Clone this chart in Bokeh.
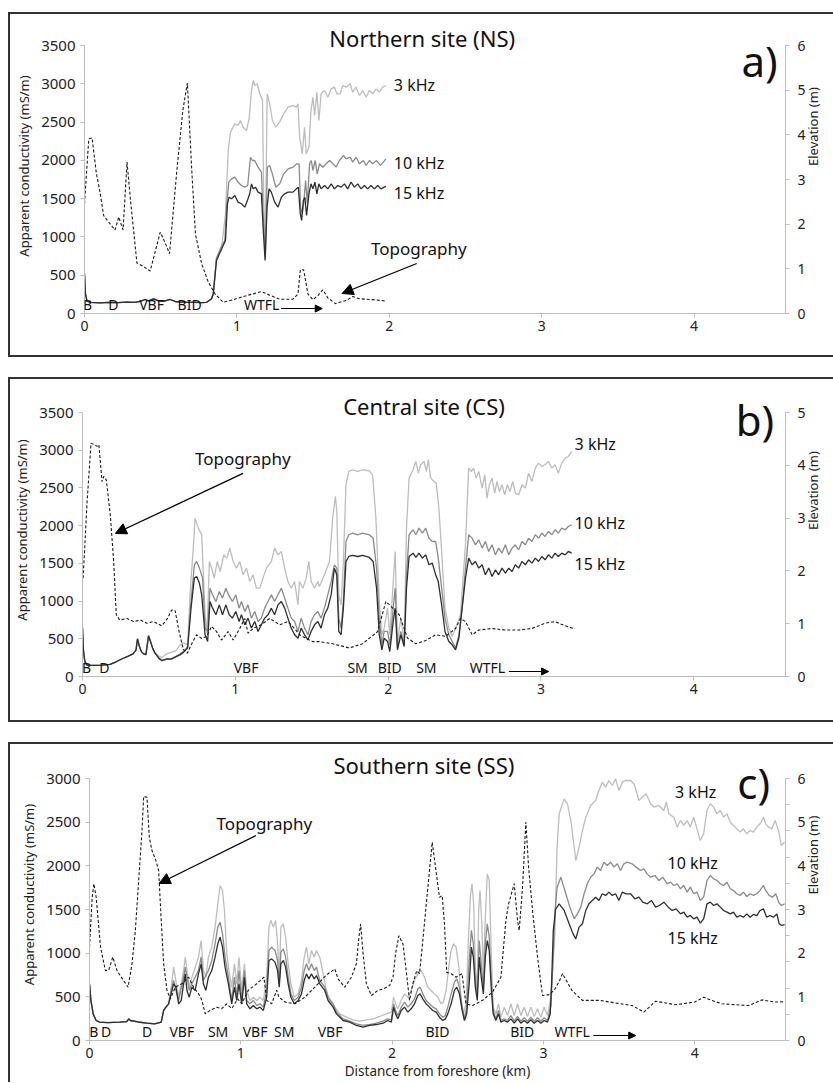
import math
from bokeh.plotting import figure
from bokeh.models import Range1d, LinearAxis, FixedTicker, Label, Arrow, NormalHead
from bokeh.layouts import column
from bokeh.embed import file_html
from bokeh.resources import INLINE

FONT = "Noto Sans"
C3, C10, C15, CT = "#bdbdbd", "#8a8a8a", "#2e2e2e", "#1a1a1a"

# ---------------- Northern site (NS) ----------------
ns_base = [(0, 518), (0.006, 257), (0.017, 160), (0.039, 144), (0.10, 140), (0.16, 146), (0.22, 142),
           (0.28, 148), (0.33, 145), (0.366, 157), (0.399, 183), (0.42, 165), (0.453, 192), (0.486, 165),
           (0.518, 157), (0.562, 183), (0.595, 157), (0.63, 150), (0.67, 144), (0.72, 146), (0.77, 142),
           (0.80, 144), (0.834, 192)]
ns_3k = [(0.845, 257), (0.866, 735), (0.90, 865), (0.925, 1300), (0.943, 2129), (0.958, 2368), (0.986, 2477),
         (1.008, 2460), (1.024, 2521), (1.041, 2433), (1.063, 2390), (1.080, 2542), (1.096, 2912),
         (1.107, 3043), (1.117, 2977), (1.133, 3000), (1.150, 2869), (1.168, 2790), (1.176, 1500),
         (1.185, 900), (1.192, 1800), (1.199, 2869), (1.215, 2737), (1.233, 2521), (1.255, 2433),
         (1.281, 2499), (1.307, 2608), (1.336, 2695), (1.368, 2717), (1.390, 2695), (1.401, 2738),
         (1.412, 2303), (1.429, 2085), (1.444, 2433), (1.455, 2085), (1.473, 2172), (1.486, 2650),
         (1.499, 2825), (1.510, 2586), (1.525, 2890), (1.538, 2521), (1.553, 2869), (1.575, 2912),
         (1.597, 2825), (1.619, 2934), (1.640, 2956), (1.656, 2869), (1.678, 2869), (1.695, 2977),
         (1.717, 2956), (1.743, 3000), (1.760, 2890), (1.782, 2956), (1.804, 2847), (1.826, 2912),
         (1.848, 2825), (1.869, 2912), (1.891, 2869), (1.913, 2934), (1.935, 2890), (1.956, 2956),
         (1.978, 2977)]
ns_10k = [(0.845, 257), (0.866, 713), (0.90, 887), (0.921, 952), (0.932, 1389), (0.947, 1715), (0.965, 1759),
          (0.986, 1780), (1.008, 1715), (1.030, 1672), (1.052, 1650), (1.071, 1672), (1.089, 2041),
          (1.102, 1998), (1.117, 1998), (1.139, 1911), (1.161, 1846), (1.172, 1300), (1.187, 735),
          (1.200, 1911), (1.215, 1933), (1.233, 1824), (1.255, 1650), (1.281, 1693), (1.307, 1824),
          (1.336, 1889), (1.368, 1911), (1.394, 1955), (1.408, 1955), (1.418, 1389), (1.429, 1302),
          (1.438, 1433), (1.451, 1737), (1.462, 1433), (1.477, 1955), (1.488, 1998), (1.499, 1868),
          (1.514, 1998), (1.527, 1824), (1.542, 1955), (1.564, 1911), (1.586, 1955), (1.608, 1998),
          (1.630, 1955), (1.651, 1911), (1.673, 1998), (1.699, 2063), (1.717, 2020), (1.743, 2041),
          (1.760, 1977), (1.782, 2041), (1.804, 1955), (1.830, 1998), (1.848, 1933), (1.869, 1998),
          (1.891, 1955), (1.917, 1998), (1.941, 1933), (1.961, 1977), (1.978, 2020)]
ns_15k = [(0.845, 257), (0.866, 692), (0.90, 843), (0.925, 952), (0.938, 1433), (0.949, 1519), (0.965, 1498),
          (0.986, 1541), (1.008, 1454), (1.030, 1433), (1.052, 1389), (1.069, 1476), (1.084, 1563),
          (1.096, 1693), (1.107, 1628), (1.122, 1650), (1.139, 1585), (1.161, 1563), (1.172, 1128),
          (1.185, 692), (1.198, 1389), (1.211, 1628), (1.226, 1585), (1.248, 1454), (1.270, 1389),
          (1.292, 1519), (1.313, 1563), (1.336, 1585), (1.368, 1585), (1.390, 1628), (1.403, 1650),
          (1.416, 1302), (1.425, 1215), (1.436, 1476), (1.446, 1519), (1.457, 1280), (1.473, 1563),
          (1.486, 1693), (1.499, 1628), (1.512, 1715), (1.525, 1563), (1.538, 1693), (1.553, 1628),
          (1.575, 1672), (1.597, 1628), (1.619, 1693), (1.640, 1628), (1.662, 1672), (1.684, 1650),
          (1.706, 1693), (1.727, 1628), (1.749, 1715), (1.771, 1650), (1.793, 1693), (1.815, 1628),
          (1.837, 1672), (1.858, 1628), (1.880, 1672), (1.902, 1628), (1.924, 1672), (1.946, 1628),
          (1.967, 1650), (1.978, 1659)]
ns_topo = [(0, 2.46), (0.028, 3.91), (0.05, 3.93), (0.078, 3.13), (0.10, 2.75), (0.126, 2.19), (0.20, 1.87),
           (0.225, 2.16), (0.253, 1.87), (0.279, 3.39), (0.30, 2.6), (0.344, 1.13), (0.388, 1.05),
           (0.431, 0.95), (0.497, 1.82), (0.523, 1.63), (0.558, 1.34), (0.606, 3.2), (0.645, 4.54),
           (0.675, 5.16), (0.704, 3.2), (0.728, 1.78), (0.769, 1.11), (0.813, 0.70), (0.856, 0.44),
           (0.91, 0.25), (0.976, 0.31), (1.063, 0.40), (1.161, 0.49), (1.216, 0.41), (1.281, 0.32),
           (1.368, 0.32), (1.401, 0.44), (1.416, 0.98), (1.438, 0.98), (1.466, 0.44), (1.499, 0.31),
           (1.531, 0.40), (1.564, 0.53), (1.597, 0.35), (1.647, 0.22), (1.673, 0.25), (1.717, 0.29),
           (1.760, 0.38), (1.804, 0.33), (1.891, 0.31), (1.978, 0.28)]
ns_zone_text = ["B", "D", "VBF", "BID", "WTFL"]
ns_zone_km = [0.02, 0.19, 0.44, 0.69, 1.163]

# ---------------- Central site (CS) ----------------
cs_base = [(0, 650), (0.006, 350), (0.015, 200), (0.03, 150), (0.08, 148), (0.13, 152), (0.18, 160),
           (0.22, 195), (0.26, 235), (0.30, 270), (0.33, 300), (0.35, 350), (0.36, 500), (0.372, 400),
           (0.385, 330), (0.40, 300), (0.415, 290), (0.432, 540), (0.447, 450), (0.46, 370), (0.475, 310)]
cs_3k = [(0.50, 270), (0.52, 250), (0.55, 300), (0.58, 320), (0.61, 340), (0.64, 420), (0.66, 450),
         (0.688, 420), (0.706, 1171), (0.728, 1790), (0.736, 2099), (0.758, 1967), (0.780, 1879),
         (0.802, 818), (0.815, 575), (0.830, 1525), (0.845, 1437), (0.862, 1304), (0.882, 1525),
         (0.901, 1392), (0.924, 1613), (0.945, 1569), (0.964, 1702), (0.986, 1525), (1.007, 1437),
         (1.029, 1525), (1.051, 1348), (1.073, 1437), (1.095, 1259), (1.116, 1348), (1.138, 1171),
         (1.160, 1171), (1.181, 1304), (1.203, 1437), (1.236, 1525), (1.257, 1702), (1.279, 1613),
         (1.301, 1658), (1.323, 1437), (1.344, 1259), (1.366, 1171), (1.388, 1259), (1.410, 950),
         (1.420, 1259), (1.442, 1171), (1.464, 1304), (1.481, 1525), (1.496, 1259), (1.518, 1171),
         (1.540, 1259), (1.550, 1193), (1.583, 1348), (1.616, 1525), (1.637, 2099), (1.655, 2387),
         (1.664, 2188), (1.677, 1083), (1.692, 950), (1.707, 1525), (1.724, 2542), (1.742, 2718),
         (1.768, 2741), (1.800, 2718), (1.833, 2741), (1.877, 2727), (1.898, 2674), (1.920, 2099),
         (1.942, 994), (1.959, 553), (1.974, 641), (1.996, 906), (2.011, 553), (2.028, 1083),
         (2.046, 1658), (2.061, 464), (2.083, 774), (2.105, 464), (2.120, 1967), (2.137, 2630),
         (2.163, 2741), (2.181, 2851), (2.198, 2696), (2.213, 2807), (2.235, 2851), (2.250, 2718),
         (2.263, 2873), (2.278, 2630), (2.300, 2586), (2.315, 2564), (2.332, 2232), (2.350, 1658),
         (2.372, 906), (2.397, 641), (2.419, 530), (2.441, 641), (2.473, 818), (2.506, 1746),
         (2.527, 2762), (2.545, 2718), (2.560, 2762), (2.575, 2630), (2.593, 2718), (2.615, 2497),
         (2.632, 2674), (2.647, 2365), (2.662, 2542), (2.680, 2630), (2.697, 2431), (2.712, 2586),
         (2.728, 2453), (2.745, 2542), (2.762, 2409), (2.780, 2542), (2.797, 2453), (2.815, 2586),
         (2.832, 2431), (2.854, 2409), (2.876, 2542), (2.898, 2497), (2.919, 2696), (2.941, 2586),
         (2.963, 2762), (2.984, 2829), (3.006, 2785), (3.027, 2807), (3.049, 2851), (3.071, 2762),
         (3.092, 2807), (3.114, 2696), (3.136, 2829), (3.158, 2895), (3.179, 2917), (3.201, 2984)]
cs_10k = [(0.50, 245), (0.52, 215), (0.55, 235), (0.58, 235), (0.61, 265), (0.64, 300), (0.66, 330),
          (0.688, 398), (0.710, 995), (0.732, 1481), (0.747, 1525), (0.765, 1437), (0.786, 1304),
          (0.802, 641), (0.819, 597), (0.834, 1171), (0.851, 1083), (0.873, 995), (0.895, 1127),
          (0.916, 1039), (0.938, 1171), (0.960, 1061), (0.981, 995), (1.003, 1083), (1.025, 906),
          (1.040, 995), (1.062, 862), (1.083, 950), (1.105, 774), (1.127, 862), (1.149, 730),
          (1.170, 774), (1.192, 906), (1.214, 995), (1.236, 1083), (1.257, 995), (1.279, 1083),
          (1.301, 1171), (1.323, 1039), (1.344, 906), (1.366, 774), (1.388, 730), (1.410, 597),
          (1.431, 774), (1.453, 641), (1.475, 553), (1.496, 730), (1.518, 818), (1.540, 862),
          (1.561, 774), (1.583, 906), (1.605, 1083), (1.627, 1259), (1.648, 1481), (1.664, 1437),
          (1.677, 774), (1.692, 641), (1.707, 995), (1.724, 1790), (1.742, 1879), (1.768, 1901),
          (1.800, 1879), (1.833, 1901), (1.877, 1879), (1.902, 1834), (1.924, 1437), (1.942, 774),
          (1.959, 420), (1.974, 597), (1.996, 597), (2.011, 420), (2.033, 906), (2.046, 1171),
          (2.061, 376), (2.083, 597), (2.105, 420), (2.120, 1348), (2.137, 1879), (2.163, 1945),
          (2.181, 1879), (2.202, 1967), (2.224, 1901), (2.246, 1967), (2.267, 1834), (2.289, 1790),
          (2.311, 1790), (2.328, 1569), (2.350, 1171), (2.372, 774), (2.397, 553), (2.419, 464),
          (2.441, 376), (2.463, 553), (2.484, 906), (2.506, 1437), (2.527, 1879), (2.549, 1834),
          (2.571, 1746), (2.593, 1812), (2.615, 1702), (2.636, 1790), (2.658, 1658), (2.680, 1746),
          (2.702, 1613), (2.723, 1702), (2.745, 1636), (2.767, 1746), (2.789, 1613), (2.811, 1702),
          (2.832, 1746), (2.854, 1680), (2.876, 1790), (2.898, 1746), (2.919, 1834), (2.941, 1790),
          (2.963, 1879), (2.984, 1834), (3.006, 1901), (3.027, 1857), (3.049, 1923), (3.071, 1879),
          (3.092, 1945), (3.114, 1901), (3.136, 1967), (3.158, 1945), (3.179, 1989), (3.201, 2011)]
cs_15k = [(0.50, 240), (0.52, 210), (0.55, 230), (0.58, 230), (0.61, 260), (0.64, 290), (0.66, 320),
          (0.688, 376), (0.710, 906), (0.732, 1304), (0.747, 1326), (0.765, 1237), (0.780, 1083),
          (0.802, 553), (0.819, 464), (0.834, 995), (0.851, 906), (0.873, 818), (0.895, 950),
          (0.916, 818), (0.938, 950), (0.960, 818), (0.981, 774), (1.003, 862), (1.025, 730),
          (1.040, 818), (1.062, 685), (1.083, 774), (1.105, 641), (1.127, 730), (1.149, 597),
          (1.170, 685), (1.192, 774), (1.214, 818), (1.236, 906), (1.257, 818), (1.279, 950),
          (1.301, 995), (1.323, 906), (1.344, 774), (1.366, 641), (1.388, 553), (1.410, 508),
          (1.431, 641), (1.453, 553), (1.475, 486), (1.496, 597), (1.518, 685), (1.540, 730),
          (1.561, 641), (1.583, 818), (1.605, 906), (1.627, 1083), (1.648, 1437), (1.664, 1348),
          (1.677, 597), (1.692, 553), (1.707, 906), (1.724, 1525), (1.742, 1591), (1.768, 1605),
          (1.800, 1591), (1.833, 1605), (1.877, 1578), (1.902, 1525), (1.924, 1171), (1.942, 553),
          (1.959, 354), (1.974, 508), (1.996, 464), (2.011, 331), (2.033, 729), (2.046, 906),
          (2.061, 354), (2.083, 553), (2.105, 398), (2.120, 1171), (2.137, 1591), (2.163, 1635),
          (2.181, 1578), (2.202, 1635), (2.224, 1569), (2.246, 1613), (2.267, 1481), (2.289, 1503),
          (2.311, 1348), (2.328, 1259), (2.350, 950), (2.372, 597), (2.397, 464), (2.419, 420),
          (2.441, 354), (2.463, 508), (2.484, 906), (2.506, 1304), (2.527, 1569), (2.549, 1481),
          (2.571, 1525), (2.593, 1437), (2.615, 1481), (2.636, 1348), (2.658, 1437), (2.680, 1326),
          (2.702, 1414), (2.723, 1348), (2.745, 1437), (2.767, 1370), (2.789, 1437), (2.811, 1392),
          (2.832, 1481), (2.854, 1437), (2.876, 1525), (2.898, 1481), (2.919, 1547), (2.941, 1503),
          (2.963, 1569), (2.984, 1525), (3.006, 1591), (3.027, 1547), (3.049, 1613), (3.071, 1569),
          (3.092, 1635), (3.114, 1591), (3.136, 1635), (3.158, 1613), (3.179, 1658), (3.201, 1635)]
cs_topo = [(0.004, 1.86), (0.030, 3.31), (0.056, 4.42), (0.078, 4.39), (0.096, 4.36), (0.107, 4.39),
           (0.128, 3.69), (0.139, 3.79), (0.156, 3.72), (0.182, 3.06), (0.204, 2.18), (0.221, 1.17),
           (0.243, 1.07), (0.291, 1.10), (0.334, 1.04), (0.378, 1.07), (0.421, 1.01), (0.465, 1.04),
           (0.519, 0.96), (0.556, 1.10), (0.584, 1.26), (0.606, 1.25), (0.632, 0.85), (0.660, 0.51),
           (0.686, 0.44), (0.721, 0.66), (0.747, 0.79), (0.780, 0.72), (0.812, 0.76), (0.845, 0.95),
           (0.877, 0.85), (0.910, 0.69), (0.953, 0.85), (0.986, 0.69), (1.029, 0.91), (1.062, 1.10),
           (1.083, 0.82), (1.116, 0.91), (1.170, 0.98), (1.225, 1.10), (1.290, 0.98), (1.344, 1.04),
           (1.387, 0.91), (1.420, 0.79), (1.463, 0.72), (1.507, 0.66), (1.550, 0.66), (1.637, 0.62),
           (1.746, 0.54), (1.833, 0.62), (1.931, 0.85), (1.985, 1.42), (2.018, 1.33), (2.072, 1.17),
           (2.105, 0.91), (2.126, 0.73), (2.181, 0.62), (2.246, 0.68), (2.311, 0.79), (2.376, 0.76),
           (2.441, 0.91), (2.473, 1.10), (2.506, 1.04), (2.550, 0.79), (2.593, 0.88), (2.680, 0.91),
           (2.767, 0.88), (2.854, 0.88), (2.941, 0.91), (3.027, 1.01), (3.092, 1.04), (3.158, 0.96),
           (3.212, 0.91)]
cs_zone_text = ["B", "D", "VBF", "SM", "BID", "SM", "WTFL"]
cs_zone_km = [0.026, 0.143, 1.07, 1.80, 2.01, 2.25, 2.65]

# ---------------- Southern site (SS) ----------------
ss_base = [(0, 649), (0.01, 450), (0.025, 300), (0.044, 229), (0.066, 210), (0.12, 205), (0.2, 210),
           (0.245, 215), (0.26, 248), (0.27, 229), (0.32, 212), (0.38, 200), (0.43, 191), (0.474, 210),
           (0.49, 344), (0.505, 382), (0.523, 420)]
ss_3k = [(0.540, 611), (0.556, 840), (0.589, 496), (0.622, 801), (0.633, 954), (0.659, 611), (0.677, 725),
         (0.720, 954), (0.738, 1145), (0.753, 801), (0.769, 725), (0.786, 954), (0.808, 1069),
         (0.830, 1298), (0.848, 1565), (0.863, 1775), (0.879, 1718), (0.892, 1489), (0.907, 993),
         (0.922, 801), (0.940, 611), (0.958, 878), (0.973, 649), (0.988, 954), (1.006, 573),
         (1.024, 878), (1.039, 573), (1.061, 458), (1.083, 496), (1.105, 458), (1.127, 496),
         (1.149, 458), (1.171, 725), (1.186, 1298), (1.199, 1374), (1.215, 1298), (1.230, 1374),
         (1.243, 1107), (1.254, 725), (1.265, 1298), (1.281, 1336), (1.296, 1183), (1.313, 878),
         (1.331, 649), (1.353, 496), (1.379, 534), (1.401, 687), (1.419, 954), (1.434, 1069),
         (1.450, 878), (1.467, 1031), (1.485, 954), (1.500, 1031), (1.522, 954), (1.544, 763),
         (1.566, 573), (1.588, 458), (1.621, 382), (1.654, 305), (1.698, 267), (1.742, 237),
         (1.786, 221), (1.830, 237), (1.874, 248), (1.918, 275), (1.961, 305), (1.995, 325),
         (2.010, 496), (2.023, 420), (2.038, 363), (2.060, 458), (2.082, 534), (2.104, 496),
         (2.126, 573), (2.148, 687), (2.170, 763), (2.192, 801), (2.214, 725), (2.236, 611),
         (2.258, 573), (2.280, 534), (2.302, 496), (2.324, 420), (2.339, 439), (2.357, 573),
         (2.374, 840), (2.390, 1031), (2.407, 1107), (2.423, 1069), (2.441, 840), (2.456, 458),
         (2.471, 305), (2.489, 420), (2.504, 1145), (2.517, 1641), (2.528, 1794), (2.539, 1565),
         (2.550, 840), (2.563, 611), (2.572, 1489), (2.581, 1718), (2.592, 1374), (2.603, 763),
         (2.616, 1412), (2.629, 1908), (2.642, 1832), (2.655, 1031), (2.668, 382), (2.686, 305),
         (2.703, 420), (2.719, 267), (2.741, 382), (2.763, 286), (2.785, 420), (2.807, 286),
         (2.829, 420), (2.851, 286), (2.873, 382), (2.895, 275), (2.917, 382), (2.939, 275),
         (2.961, 363), (2.983, 267), (3.005, 382), (3.027, 286), (3.050, 500), (3.075, 1200),
         (3.090, 2200), (3.104, 2595), (3.137, 2767), (3.159, 2710), (3.181, 2519), (3.203, 2214),
         (3.214, 2061), (3.236, 2214), (3.258, 2405), (3.280, 2557), (3.312, 2691), (3.345, 2748),
         (3.367, 2863), (3.389, 2958), (3.411, 2901), (3.433, 2977), (3.455, 2920), (3.477, 2996),
         (3.499, 2863), (3.521, 2958), (3.543, 2977), (3.576, 2977), (3.598, 2939), (3.613, 2863),
         (3.631, 2748), (3.653, 2786), (3.679, 2825), (3.708, 2710), (3.730, 2672), (3.763, 2691),
         (3.796, 2634), (3.812, 2729), (3.829, 2595), (3.862, 2557), (3.884, 2443), (3.906, 2519),
         (3.928, 2462), (3.950, 2519), (3.971, 2443), (3.993, 2557), (4.015, 2424), (4.037, 2290),
         (4.059, 2366), (4.081, 2634), (4.103, 2710), (4.125, 2672), (4.147, 2595), (4.169, 2634),
         (4.191, 2557), (4.213, 2595), (4.235, 2500), (4.256, 2462), (4.278, 2424), (4.300, 2386),
         (4.322, 2424), (4.344, 2366), (4.366, 2405), (4.388, 2386), (4.410, 2443), (4.432, 2481),
         (4.454, 2557), (4.469, 2481), (4.488, 2443), (4.510, 2424), (4.532, 2519), (4.554, 2405),
         (4.572, 2233), (4.594, 2271)]
ss_10k = [(0.540, 573), (0.556, 687), (0.589, 458), (0.622, 725), (0.633, 840), (0.659, 573), (0.677, 649),
          (0.720, 801), (0.738, 954), (0.753, 687), (0.786, 801), (0.808, 916), (0.830, 1107),
          (0.848, 1298), (0.863, 1355), (0.879, 1221), (0.896, 954), (0.918, 725), (0.940, 458),
          (0.958, 725), (0.973, 496), (0.988, 801), (1.006, 458), (1.024, 801), (1.039, 458),
          (1.061, 420), (1.083, 458), (1.105, 401), (1.127, 420), (1.149, 382), (1.171, 573),
          (1.186, 1031), (1.204, 1069), (1.226, 1031), (1.243, 916), (1.254, 649), (1.265, 1012),
          (1.281, 1050), (1.296, 954), (1.313, 725), (1.331, 534), (1.353, 458), (1.379, 496),
          (1.401, 611), (1.419, 801), (1.434, 878), (1.450, 801), (1.467, 878), (1.485, 801),
          (1.500, 840), (1.522, 687), (1.555, 611), (1.577, 496), (1.610, 420), (1.632, 325),
          (1.676, 248), (1.720, 221), (1.764, 191), (1.808, 172), (1.852, 183), (1.896, 198),
          (1.940, 221), (1.972, 248), (1.995, 237), (2.010, 420), (2.023, 344), (2.038, 286),
          (2.060, 382), (2.082, 439), (2.104, 382), (2.126, 420), (2.148, 477), (2.170, 592),
          (2.185, 611), (2.203, 534), (2.225, 458), (2.247, 420), (2.269, 382), (2.291, 363),
          (2.313, 305), (2.335, 267), (2.352, 286), (2.368, 382), (2.390, 534), (2.412, 668),
          (2.427, 706), (2.445, 611), (2.463, 382), (2.478, 248), (2.493, 382), (2.511, 954),
          (2.524, 1260), (2.537, 1107), (2.550, 687), (2.563, 534), (2.576, 1145), (2.589, 878),
          (2.603, 611), (2.616, 1107), (2.629, 1336), (2.642, 1183), (2.655, 687), (2.668, 344),
          (2.686, 248), (2.703, 344), (2.719, 229), (2.741, 248), (2.763, 229), (2.785, 286),
          (2.807, 221), (2.829, 275), (2.851, 221), (2.873, 260), (2.895, 221), (2.917, 267),
          (2.939, 221), (2.961, 260), (2.983, 221), (3.005, 260), (3.027, 229), (3.050, 400),
          (3.065, 1000), (3.078, 1500), (3.090, 1750), (3.115, 1870), (3.148, 1680), (3.175, 1527),
          (3.203, 1393), (3.225, 1450), (3.247, 1527), (3.269, 1680), (3.290, 1794), (3.312, 1870),
          (3.334, 1908), (3.356, 1985), (3.378, 1947), (3.400, 2042), (3.422, 2004), (3.444, 2042),
          (3.466, 1985), (3.488, 2023), (3.510, 1947), (3.532, 2023), (3.554, 2042), (3.587, 2023),
          (3.613, 1985), (3.642, 1947), (3.664, 1966), (3.686, 1908), (3.708, 1870), (3.737, 1889),
          (3.763, 1832), (3.789, 1870), (3.818, 1794), (3.840, 1813), (3.862, 1775), (3.884, 1794),
          (3.906, 1737), (3.928, 1775), (3.950, 1699), (3.971, 1756), (3.993, 1680), (4.015, 1699),
          (4.037, 1603), (4.059, 1641), (4.081, 1832), (4.103, 1889), (4.125, 1851), (4.147, 1832),
          (4.169, 1794), (4.191, 1775), (4.213, 1813), (4.235, 1737), (4.256, 1718), (4.278, 1680),
          (4.300, 1661), (4.322, 1699), (4.344, 1649), (4.366, 1680), (4.388, 1661), (4.410, 1680),
          (4.432, 1718), (4.454, 1775), (4.469, 1718), (4.492, 1661), (4.514, 1641), (4.536, 1680),
          (4.554, 1584), (4.572, 1546), (4.594, 1565)]
ss_15k = [(0.540, 534), (0.556, 649), (0.571, 611), (0.589, 420), (0.606, 458), (0.622, 649), (0.633, 763),
          (0.644, 573), (0.659, 496), (0.677, 611), (0.698, 573), (0.720, 763), (0.738, 878),
          (0.753, 649), (0.769, 573), (0.786, 725), (0.808, 801), (0.830, 954), (0.848, 1107),
          (0.863, 1183), (0.879, 1069), (0.896, 840), (0.918, 649), (0.940, 420), (0.958, 611),
          (0.973, 458), (0.988, 649), (1.006, 420), (1.024, 725), (1.039, 420), (1.061, 363),
          (1.083, 401), (1.105, 363), (1.127, 382), (1.149, 344), (1.171, 496), (1.186, 916),
          (1.204, 935), (1.226, 897), (1.243, 801), (1.254, 611), (1.265, 878), (1.281, 916),
          (1.296, 840), (1.313, 649), (1.331, 496), (1.353, 420), (1.379, 458), (1.401, 534),
          (1.419, 687), (1.434, 763), (1.450, 706), (1.467, 763), (1.485, 706), (1.500, 744),
          (1.522, 649), (1.555, 573), (1.577, 458), (1.610, 382), (1.632, 305), (1.676, 229),
          (1.720, 210), (1.764, 172), (1.808, 153), (1.852, 172), (1.896, 183), (1.940, 198),
          (1.972, 229), (1.995, 210), (2.010, 382), (2.023, 305), (2.038, 248), (2.060, 344),
          (2.082, 382), (2.104, 325), (2.126, 363), (2.148, 420), (2.170, 515), (2.185, 534),
          (2.203, 477), (2.225, 420), (2.247, 382), (2.269, 344), (2.291, 325), (2.313, 267),
          (2.335, 229), (2.352, 248), (2.368, 305), (2.390, 420), (2.412, 573), (2.427, 611),
          (2.445, 534), (2.463, 344), (2.478, 229), (2.493, 305), (2.511, 687), (2.524, 1069),
          (2.537, 954), (2.550, 611), (2.563, 458), (2.576, 954), (2.589, 725), (2.603, 534),
          (2.616, 954), (2.629, 1145), (2.642, 1031), (2.655, 611), (2.668, 305), (2.686, 229),
          (2.703, 305), (2.719, 210), (2.741, 229), (2.763, 210), (2.785, 248), (2.807, 198),
          (2.829, 248), (2.851, 198), (2.873, 229), (2.895, 198), (2.917, 237), (2.939, 198),
          (2.961, 229), (2.983, 198), (3.005, 229), (3.027, 210), (3.045, 300), (3.055, 700),
          (3.065, 1250), (3.080, 1500), (3.104, 1565), (3.137, 1489), (3.170, 1336), (3.196, 1221),
          (3.214, 1164), (3.236, 1298), (3.258, 1336), (3.280, 1489), (3.301, 1565), (3.323, 1603),
          (3.345, 1641), (3.367, 1603), (3.389, 1680), (3.411, 1661), (3.433, 1699), (3.455, 1661),
          (3.477, 1680), (3.499, 1603), (3.521, 1699), (3.547, 1680), (3.576, 1680), (3.605, 1622),
          (3.631, 1641), (3.657, 1584), (3.686, 1565), (3.715, 1603), (3.741, 1527), (3.767, 1546),
          (3.796, 1584), (3.825, 1527), (3.851, 1489), (3.877, 1508), (3.906, 1450), (3.928, 1470),
          (3.950, 1412), (3.971, 1431), (3.993, 1393), (4.015, 1412), (4.037, 1343), (4.059, 1393),
          (4.081, 1565), (4.103, 1584), (4.125, 1546), (4.147, 1565), (4.169, 1527), (4.191, 1489),
          (4.213, 1470), (4.235, 1450), (4.256, 1470), (4.278, 1412), (4.300, 1431), (4.322, 1412),
          (4.344, 1450), (4.366, 1412), (4.388, 1443), (4.410, 1431), (4.432, 1489), (4.454, 1508),
          (4.476, 1412), (4.498, 1431), (4.520, 1412), (4.543, 1450), (4.558, 1336), (4.576, 1317),
          (4.594, 1326)]
ss_topo = [(0, 2.14), (0.018, 3.28), (0.029, 3.59), (0.044, 3.28), (0.073, 2.14), (0.105, 1.60),
           (0.127, 1.61), (0.154, 1.91), (0.182, 1.60), (0.226, 1.37), (0.255, 1.22), (0.281, 1.76),
           (0.303, 2.52), (0.325, 3.66), (0.347, 4.81), (0.358, 5.59), (0.380, 5.57), (0.395, 4.66),
           (0.413, 4.35), (0.439, 4.12), (0.457, 3.89), (0.474, 2.75), (0.490, 1.76), (0.512, 1.15),
           (0.534, 0.95), (0.567, 1.22), (0.611, 1.30), (0.655, 1.45), (0.688, 1.22), (0.721, 1.07),
           (0.743, 0.92), (0.765, 0.61), (0.797, 0.69), (0.841, 0.76), (0.874, 0.73), (0.907, 0.84),
           (0.940, 0.73), (0.980, 0.95), (1.006, 0.84), (1.050, 1.15), (1.105, 1.30), (1.153, 1.45),
           (1.171, 0.92), (1.204, 0.84), (1.237, 1.15), (1.252, 0.99), (1.292, 0.88), (1.358, 0.84),
           (1.423, 0.99), (1.489, 1.22), (1.522, 1.34), (1.566, 1.50), (1.621, 1.64), (1.643, 1.41),
           (1.687, 1.22), (1.731, 1.45), (1.764, 1.76), (1.781, 2.37), (1.792, 2.67), (1.808, 1.99),
           (1.830, 1.30), (1.863, 1.03), (1.907, 1.15), (1.940, 1.18), (1.984, 1.26), (2.006, 1.45),
           (2.023, 1.99), (2.045, 2.40), (2.072, 2.21), (2.098, 1.45), (2.115, 0.92), (2.137, 1.30),
           (2.163, 1.60), (2.181, 1.53), (2.203, 2.29), (2.247, 3.89), (2.265, 4.54), (2.287, 3.97),
           (2.313, 3.28), (2.331, 3.32), (2.346, 2.67), (2.361, 1.56), (2.390, 1.53), (2.423, 1.45),
           (2.462, 1.53), (2.488, 0.84), (2.532, 0.80), (2.598, 0.92), (2.664, 1.11), (2.719, 1.45),
           (2.752, 2.75), (2.770, 3.13), (2.807, 3.59), (2.829, 2.75), (2.840, 2.52), (2.862, 3.51),
           (2.884, 5.0), (2.902, 3.97), (2.928, 2.98), (2.961, 1.91), (2.994, 1.03), (3.038, 1.05),
           (3.071, 1.15), (3.104, 1.35), (3.126, 1.53), (3.190, 1.14), (3.258, 0.92), (3.367, 0.92),
           (3.587, 0.80), (3.664, 0.65), (3.741, 0.90), (3.870, 0.82), (3.917, 0.84), (4.000, 0.88),
           (4.059, 0.99), (4.110, 0.92), (4.180, 0.84), (4.356, 0.80), (4.444, 0.93), (4.530, 0.88),
           (4.598, 0.89)]
ss_zone_text = ["B", "D", "D", "VBF", "SM", "VBF", "SM", "VBF", "BID", "BID", "WTFL"]
ss_zone_km = [0.028, 0.11, 0.38, 0.61, 0.85, 1.094, 1.287, 1.59, 2.30, 2.86, 3.19]

y_ticks_a = [0, 500, 1000, 1500, 2000, 2500, 3000, 3500]
y_ticks_c = [0, 500, 1000, 1500, 2000, 2500, 3000]
x_ticks = [0, 1, 2, 3, 4]
elev_minor_c = [0, 0.6, 1.2, 1.8, 2.4, 3.0, 3.6, 4.2, 4.8, 5.4, 6.0]


def xs(pairs):
    return [p[0] for p in pairs]


def ys(pairs):
    return [p[1] for p in pairs]


def style_axis(ax, size="14px"):
    ax.axis_line_color = "#bdbdbd"
    ax.major_tick_line_color = "#bdbdbd"
    ax.minor_tick_line_color = None
    ax.major_tick_in = 0
    ax.major_tick_out = 4
    ax.major_label_text_font = FONT
    ax.major_label_text_font_size = size
    ax.major_label_text_color = "#222222"
    ax.axis_label_text_font = FONT
    ax.axis_label_text_font_style = "normal"
    ax.axis_label_text_color = "#222222"


W = 823


def panel(height, ymax, emax, yticks, left, right_px, axis_top, axis_bottom, series, topo, title, tag,
          freq_pos, topo_txt, topo_arrow, zone_text, zone_km, wtfl_arrow, wtfl_y, xlabel=None,
          elev_minor=None):
    frame_top = 4
    scale = ymax / (axis_bottom - axis_top)
    ytop = ymax + (axis_top - frame_top) * scale
    etop = emax * ytop / ymax
    p = figure(width=W, height=height, x_range=Range1d(0, 4.6), y_range=Range1d(0, ytop),
               output_backend="svg", toolbar_location=None,
               min_border_left=left, min_border_right=W - right_px,
               min_border_top=frame_top, min_border_bottom=height - axis_bottom,
               background_fill_color="white", border_fill_color="white", outline_line_color=None)
    p.xgrid.visible = False
    p.ygrid.visible = False
    p.extra_y_ranges = {"elev": Range1d(0, etop)}
    if elev_minor:
        eticker = FixedTicker(ticks=list(range(emax + 1)), minor_ticks=elev_minor)
    else:
        eticker = FixedTicker(ticks=list(range(emax + 1)))
    right = LinearAxis(y_range_name="elev", axis_label="Elevation (m)", bounds=(0, emax), ticker=eticker)
    p.add_layout(right, "right")
    style_axis(right, "14px")
    if elev_minor:
        right.major_tick_out = 0
        right.minor_tick_line_color = "#bdbdbd"
        right.minor_tick_out = 4
        right.minor_tick_in = 0
    right.axis_label_text_font_size = "13px"
    right.axis_label_orientation = math.pi / 2
    right.major_label_standoff = 8
    right.axis_label_standoff = 4
    ya = p.yaxis[0]
    style_axis(ya, "15px")
    ya.bounds = (0, ymax)
    ya.ticker = FixedTicker(ticks=yticks)
    ya.axis_label = "Apparent conductivity (mS/m)"
    ya.axis_label_text_font_size = "13px"
    ya.major_label_standoff = 5
    xa = p.xaxis[0]
    style_axis(xa, "14px")
    xa.ticker = FixedTicker(ticks=x_ticks)
    xa.major_label_standoff = 3
    if xlabel:
        xa.axis_label = xlabel
        xa.axis_label_text_font_size = "13.5px"
        xa.axis_label_standoff = 1

    for pairs, col in zip(series, [C3, C10, C15]):
        p.line(xs(pairs), ys(pairs), line_color=col, line_width=1.3)
    p.line(xs(topo), ys(topo), y_range_name="elev", line_color=CT, line_width=1.1, line_dash="3 2")

    p.add_layout(Label(x=title[1], y=title[2], text=title[0], text_font=FONT, text_font_size="22px",
                       text_align="center", text_baseline="middle", text_color="#111111"))
    p.add_layout(Label(x=tag[1], y=tag[2], text=tag[0], text_font=FONT, text_font_size="42px",
                       text_align="center", text_baseline="middle", text_color="#111111"))
    for txt, (fx, fy) in zip(["3 kHz", "10 kHz", "15 kHz"], freq_pos):
        p.add_layout(Label(x=fx, y=fy, text=txt, text_font=FONT, text_font_size="16px",
                           text_align="left", text_baseline="middle", text_color="#111111"))
    p.add_layout(Label(x=topo_txt[0], y=topo_txt[1], text="Topography", text_font=FONT,
                       text_font_size="17px", text_align="left", text_baseline="middle",
                       text_color="#111111"))
    p.add_layout(Arrow(end=NormalHead(size=11, fill_color="black", line_color="black"),
                       x_start=topo_arrow[0], y_start=topo_arrow[1], x_end=topo_arrow[2],
                       y_end=topo_arrow[3], line_color="black", line_width=1.3))
    for txt, kx in zip(zone_text, zone_km):
        p.add_layout(Label(x=kx, y=0, text=txt, text_font=FONT, text_font_size="14px",
                           text_align="center", text_baseline="bottom",
                           text_color="#111111"))
    p.add_layout(Arrow(end=NormalHead(size=7, fill_color="black", line_color="black"),
                       x_start=wtfl_arrow[0], y_start=wtfl_y, x_end=wtfl_arrow[1], y_end=wtfl_y,
                       line_color="black", line_width=1.1))
    return p


BORDER = "2px solid #333333"
pa = panel(341, 3500, 6, y_ticks_a, 74, 778, 31, 299,
           [ns_base + ns_3k, ns_base + ns_10k, ns_base + ns_15k],
           ns_topo, ("Northern site  (NS)", 2.235, 3592), ("a)", 4.43, 3304),
           [(2.03, 2978), (2.03, 1959), (2.03, 1580)], (1.88, 849), (2.18, 653, 1.69, 261),
           ns_zone_text, ns_zone_km, (1.29, 1.56), 65)
pb = panel(341, 3500, 5, y_ticks_a, 72, 778, 33, 297,
           [cs_base + cs_3k, cs_base + cs_10k, cs_base + cs_15k],
           cs_topo, ("Central site (CS)", 2.235, 3580), ("b)", 4.40, 3408),
           [(3.22, 3076), (3.22, 2029), (3.22, 1498)], (0.736, 2891), (1.05, 2692, 0.215, 1896),
           cs_zone_text, cs_zone_km, (2.79, 3.05), 66)
pc = panel(338, 3000, 6, y_ticks_c, 79, 777, 34, 296,
           [ss_base + ss_3k, ss_base + ss_10k, ss_base + ss_15k],
           ss_topo, ("Southern site (SS)", 2.21, 3149), ("c)", 4.39, 2954),
           [(3.87, 2840), (3.82, 2027), (3.82, 1168)], (0.84, 2485), (1.10, 2347, 0.46, 1798),
           ss_zone_text, ss_zone_km, (3.33, 3.61), 57, xlabel="Distance from foreshore (km)",
           elev_minor=elev_minor_c)

box_a = column(pa, styles={"border-top": BORDER, "border-left": BORDER, "border-bottom": BORDER})
box_b = column(pb, styles={"border-top": BORDER, "border-left": BORDER, "border-bottom": BORDER})
box_c = column(pc, styles={"border-top": BORDER, "border-left": BORDER})
layout = column(box_a, box_b, box_c, spacing=20)
layout.margin = (12, 0, 0, 8)
open("out.html", "w").write(file_html(layout, INLINE))
